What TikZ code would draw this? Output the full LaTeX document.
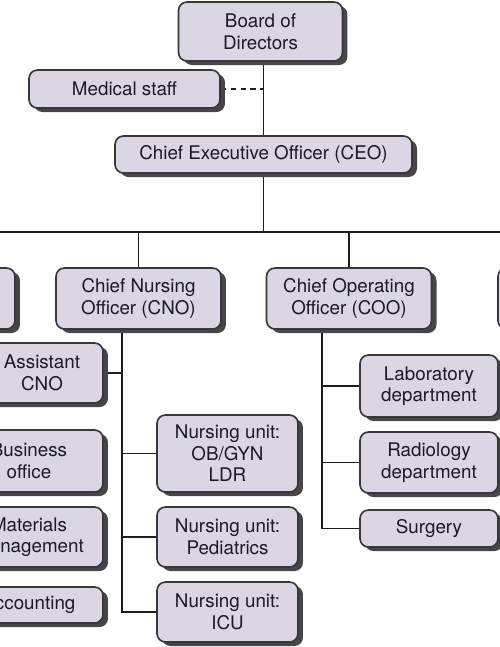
\documentclass[tikz,border=0pt]{standalone}
\usepackage{fontspec}
\setmainfont{TeX Gyre Heros}
\usetikzlibrary{shadows,backgrounds}

\definecolor{boxfill}{RGB}{219,213,228}
\definecolor{boxline}{RGB}{55,55,60}
\definecolor{shade}{RGB}{70,70,72}
\definecolor{wirecol}{RGB}{30,30,30}
\definecolor{ink}{RGB}{28,26,34}

\tikzset{
  post/.style={draw=boxline, line width=0.95pt, fill=boxfill, rounded corners=0.17cm,
    inner sep=0pt, align=center, text=ink, font=\fontsize{10.7}{12.3}\selectfont,
    drop shadow={shadow xshift=0.1cm, shadow yshift=-0.08cm, fill=shade, opacity=1}},
  dims/.style 2 args={minimum width=#1*0.02cm, minimum height=#2*0.02cm},
  wire/.style={draw=wirecol, line width=1pt},
}

\begin{document}
\begin{tikzpicture}[x=0.02cm, y=-0.02cm]
\path[use as bounding box, clip] (0,0) rectangle (500,647);

\node[post, dims={164}{59}] (board) at (260.5,31.5) {Board of\\Directors};
\node[post, dims={191}{38}] (med) at (124.5,89) {Medical staff};
\node[post, dims={297}{37}] (ceo) at (263.5,154.5) {Chief Executive Officer (CEO)};

\node[post, dims={165}{61}] (cfo) at (-67.5,298.5) {};
\node[post, dims={165}{61}] (cno) at (138.5,298.5) {Chief Nursing\\Officer (CNO)};
\node[post, dims={165}{61}] (coo) at (349,298.5) {Chief Operating\\Officer (COO)};
\node[post, dims={165}{61}] (cxo) at (580.5,298.5) {};

\node[post, dims={122}{60}] (asst) at (42,373) {Assistant\\CNO};
\node[post, dims={148}{62}] (bus) at (29,461) {Business\\office};
\node[post, dims={148}{60}] (mat) at (29,537) {Materials\\management};
\node[post, dims={148}{36}] (acc) at (29,605) {Accounting};

\node[post, dims={141}{77}] (nobgyn) at (227.5,453.5) {Nursing unit:\\OB/GYN\\LDR};
\node[post, dims={141}{60}] (nped) at (227.5,537) {Nursing unit:\\Pediatrics};
\node[post, dims={141}{60}] (nicu) at (227.5,612) {Nursing unit:\\ICU};

\node[post, dims={138}{62}] (lab) at (429,386) {Laboratory\\department};
\node[post, dims={138}{61}] (rad) at (429,462.5) {Radiology\\department};
\node[post, dims={138}{37}] (surg) at (429,528.5) {Surgery};

\coordinate (barL) at (-10,232);
\coordinate (barR) at (510,232);
\coordinate (cnobus) at (122,612);
\coordinate (coobus) at (322,528);

\begin{pgfonlayer}{background}
\draw[wire] (board.south -| ceo.north) -- (ceo.north);
\draw[wire, dash pattern=on 3.2pt off 2.4pt] (med.east) -- (med.east -| ceo.north);
\draw[wire] (ceo.south) -- (ceo.south |- barL);
\draw[wire] (barL) -- (barR);
\draw[wire] (cno.north |- barL) -- (cno.north);
\draw[wire] (coo.north |- barL) -- (coo.north);

\draw[wire] (cno.south -| cnobus) |- (nicu.west);
\draw[wire] (asst.east) -- (asst.east -| cnobus);
\draw[wire] (nobgyn.west) -- (nobgyn.west -| cnobus);
\draw[wire] (nped.west) -- (nped.west -| cnobus);

\draw[wire] (coo.south -| coobus) |- (surg.west);
\draw[wire] (lab.west) -- (lab.west -| coobus);
\draw[wire] (rad.west) -- (rad.west -| coobus);
\end{pgfonlayer}
\end{tikzpicture}
\end{document}
